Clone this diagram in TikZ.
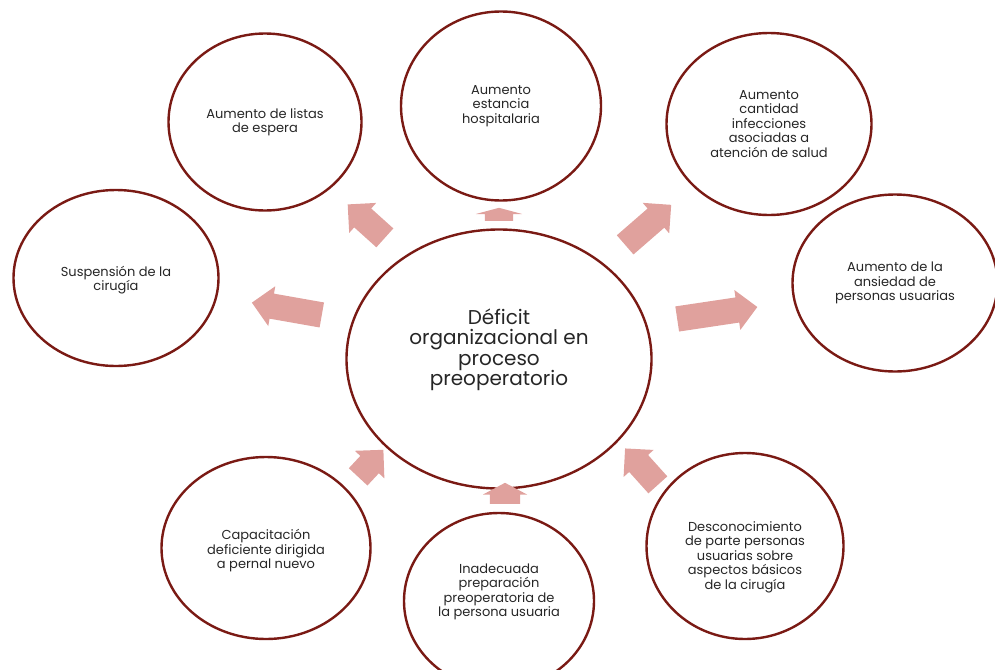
\documentclass[tikz,border=0pt]{standalone}
\usepackage{fontspec}
\setmainfont{Poppins}
\usetikzlibrary{shapes.geometric,shapes.arrows}
\definecolor{ringred}{HTML}{7A1A14}
\definecolor{blockpink}{HTML}{E0A19D}
\definecolor{inktext}{HTML}{262626}
\tikzset{
  effect/.style={ellipse, draw=ringred, line width=2.4pt, inner sep=0pt},
  caption/.style={text=inktext, align=center, font=\fontsize{13}{14.5}\selectfont},
  push/.style={single arrow, fill=blockpink, draw=none, anchor=tail,
    inner xsep=0pt, inner ysep=12.5pt, minimum width=0pt,
    single arrow head extend=7.5pt},
}
\begin{document}
\begin{tikzpicture}[x=1pt,y=-1pt]
  \useasboundingbox (0,0) rectangle (995,669);
  % central problem
  \node[effect, minimum width=305pt, minimum height=259pt,
    label={[caption, font=\fontsize{20}{20.5}\selectfont, yshift=9pt]center:D\'eficit\\organizacional en\\proceso\\preoperatorio}]
    (deficit) at (499,359) {};
  % effects
  \node[effect, minimum width=193pt, minimum height=177pt,
    label={[caption]center:Aumento de listas\\de espera}] (listas) at (265,122) {};
  \node[effect, minimum width=200pt, minimum height=189pt,
    label={[caption]center:Aumento\\estancia\\hospitalaria}] (estancia) at (501,106) {};
  \node[effect, minimum width=205pt, minimum height=182pt,
    label={[caption]center:Aumento\\cantidad\\infecciones\\asociadas a\\atenci\'on de salud}] (infecciones) at (769,124) {};
  \node[effect, minimum width=205pt, minimum height=177pt,
    label={[caption]center:Aumento de la\\ansiedad de\\personas usuarias}] (ansiedad) at (895,283) {};
  \node[effect, minimum width=205pt, minimum height=176pt,
    label={[caption, yshift=-2pt]center:Suspensi\'on de la\\cirug\'ia}] (suspension) at (116,278) {};
  % causes
  \node[effect, minimum width=209pt, minimum height=182pt,
    label={[caption, yshift=-3pt]center:Capacitaci\'on\\deficiente dirigida\\a pernal nuevo}] (capacitacion) at (266,548) {};
  \node[effect, minimum width=190pt, minimum height=176pt,
    label={[caption, yshift=9pt]center:Inadecuada\\preparaci\'on\\preoperatoria de\\la persona usuaria}] (preparacion) at (499,601) {};
  \node[effect, minimum width=197pt, minimum height=186pt,
    label={[caption, yshift=-11pt]center:Desconocimiento\\de parte personas\\usuarias sobre\\aspectos b\'asicos\\de la cirug\'ia}] (desconocimiento) at (745,546) {};
  % block arrows
  \node[push, minimum height=50pt, rotate=138] (toListas) at (385,238) {};
  \node[push, minimum height=13pt, inner ysep=14pt, single arrow head extend=9pt,
    single arrow tip angle=150, rotate=90] (toEstancia) at (499,221) {};
  \node[push, minimum height=61pt, rotate=41] (toInfecciones) at (625,245) {};
  \node[push, minimum height=71pt, rotate=170] (toSuspension) at (322,315) {};
  \node[push, minimum height=81pt, rotate=8.5] (toAnsiedad) at (677,319) {};
  \node[push, minimum height=37pt, rotate=47] (fromCapacitacion) at (358,477) {};
  \node[push, minimum height=21pt, inner ysep=15pt, single arrow head extend=7pt,
    single arrow tip angle=124, rotate=90] (fromPreparacion) at (505,504) {};
  \node[push, minimum height=49pt, rotate=132] (fromDesconocimiento) at (658,485) {};
\end{tikzpicture}
\end{document}
